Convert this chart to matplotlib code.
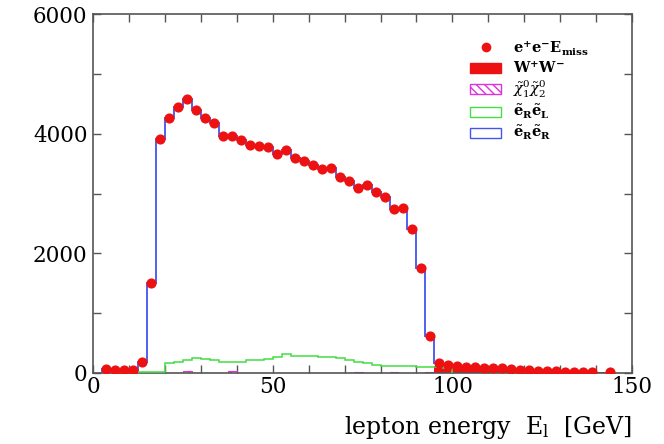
import numpy as np
import matplotlib
matplotlib.use("Agg")
import matplotlib.pyplot as plt
from matplotlib.lines import Line2D
from matplotlib.patches import Patch
from matplotlib.ticker import MultipleLocator

plt.rcParams["font.family"] = ["DejaVu Serif"]
plt.rcParams["mathtext.fontset"] = "dejavuserif"
plt.rcParams["hatch.linewidth"] = 1.0

# lepton energy binning [GeV]
bin_width = 2.5
edges = np.arange(2.5, 145.0 + bin_width / 2, bin_width)
centers = edges[:-1] + bin_width / 2

# e+e- -> E_miss events per bin (NaN = empty bin)
events = [65, 55, 45, 50, 180, 1510, 3920, 4265, 4450, 4590,
          4390, 4265, 4185, 3965, 3960, 3895, 3810, 3800, 3780, 3665,
          3735, 3600, 3550, 3475, 3410, 3430, 3280, 3210, 3090, 3140,
          3030, 2945, 2740, 2755, 2400, 1750, 620, 160, 125, 110,
          95, 95, 90, 78, 75, 62, 50, 48, 38, 33,
          30, 22, 22, 22, 22, np.nan, 22]

# eR eR (total) histogram, 2.5 .. 127.5 GeV
erer = [65, 55, 45, 50, 180, 1510, 3920, 4265, 4450, 4590,
        4390, 4265, 4185, 3965, 3960, 3895, 3810, 3800, 3780, 3665,
        3735, 3600, 3550, 3475, 3410, 3430, 3280, 3210, 3090, 3140,
        3030, 2945, 2740, 2755, 2400, 1750, 620, 160, 125, 110,
        95, 95, 90, 78, 75, 62, 50, 48, 38, 33]

# eR eL histogram, 12.5 .. 100 GeV
erel_start = 12.5
erel = [20, 20, 20, 160, 190, 215, 245, 240, 215, 190,
        180, 190, 215, 210, 235, 270, 320, 290, 290, 285,
        270, 260, 245, 215, 190, 160, 135, 115, 110, 110,
        110, 105, 105, 100, 90]

# chi1 chi2 contribution (bin centre -> events)
chi_centers = [26.25, 38.75, 73.75, 83.75, 93.75]
chi_values = [30, 30, 20, 20, 20]

# W+W- contribution, 95 .. 145 GeV
ww_start = 95.0
ww = [120, 95, 85, 75, 70, 65, 55, 55, 45, 40,
      35, 30, 25, 22, 20, 18, 18, 18, 18, 0]

fig = plt.figure(figsize=(6.64, 4.44), dpi=100)
ax = fig.add_axes([0.140, 0.160, 0.812, 0.808])

# W+W- filled
ww_edges = ww_start + bin_width * np.arange(len(ww) + 1)
ax.stairs(ww, ww_edges, fill=True, color="#ee1111", zorder=2)

# chi chi hatched bars
ax.bar(chi_centers, chi_values, width=bin_width, color="white",
       edgecolor="#dd33dd", hatch="\\\\\\\\", linewidth=0.8, zorder=2)

# eR eL
erel_edges = erel_start + bin_width * np.arange(len(erel) + 1)
ax.stairs(erel, erel_edges, color="#44dd44", linewidth=1.1, zorder=3)

# eR eR
erer_edges = edges[:len(erer) + 1]
ax.stairs(erer, erer_edges, color="#5060ee", linewidth=1.4, zorder=4)

# data points
ax.plot(centers, events, linestyle="none", marker="o", markersize=7.3,
        color="#ee1111", markeredgewidth=0, zorder=5)

ax.set_xlim(0, 150)
ax.set_ylim(0, 6000)
ax.xaxis.set_major_locator(MultipleLocator(50))
ax.xaxis.set_minor_locator(MultipleLocator(10))
ax.yaxis.set_major_locator(MultipleLocator(2000))
ax.yaxis.set_minor_locator(MultipleLocator(1000))
ax.tick_params(which="both", direction="in", top=True, right=True,
               color="#555555", width=1.0)
ax.tick_params(which="major", length=6, labelsize=15.5, pad=4)
ax.tick_params(which="minor", length=6)
ax.tick_params(axis="x", which="major", pad=2)
for s in ax.spines.values():
    s.set_color("#555555")
    s.set_linewidth(1.2)

ax.set_xlabel(r"lepton energy  E$_{\rm l}$  [GeV]", fontsize=17,
              ha="right", x=1.0, labelpad=12)

handles = [
    Line2D([], [], linestyle="none", marker="o", markersize=7,
           color="#ee1111", markeredgewidth=0),
    Patch(facecolor="#ee1111", edgecolor="#ee1111"),
    Patch(facecolor="white", edgecolor="#dd33dd", hatch="\\\\\\\\"),
    Patch(facecolor="white", edgecolor="#44dd44"),
    Patch(facecolor="white", edgecolor="#4455ee"),
]
labels = [
    r"$\mathbf{e^{+}e^{-}E_{miss}}$",
    r"$\mathbf{W^{+}W^{-}}$",
    r"$\tilde{\chi}^{0}_{1}\tilde{\chi}^{0}_{2}$",
    r"$\mathbf{\tilde{e}_{R}\tilde{e}_{L}}$",
    r"$\mathbf{\tilde{e}_{R}\tilde{e}_{R}}$",
]
ax.legend(handles, labels, loc="upper left", bbox_to_anchor=(0.70, 0.935),
          frameon=False, fontsize=10.5, handlelength=2.1, handleheight=0.65,
          handletextpad=0.8, labelspacing=0.2, borderpad=0,
          borderaxespad=0)

fig.savefig("out.png", dpi=100)
